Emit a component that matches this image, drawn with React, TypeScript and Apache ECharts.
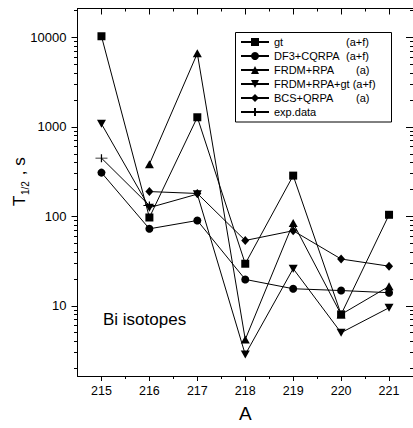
import React, { useEffect, useRef } from 'react';
import * as echarts from 'echarts';

// ---- data ----
const massNumbers = [215, 216, 217, 218, 219, 220, 221];
const gtValues = [10300, 97, 1280, 29.5, 285, 8.0, 104];
const df3Values = [308, 72.5, 89.8, 19.7, 15.5, 14.8, 14.0];
const frdmValues = [null, 383, 6630, 4.2, 84, 8.0, 16.5];
const frdmGtValues = [1080, 125, 177, 2.85, 26, 5.0, 9.5];
const bcsValues = [null, 189, 180, 53.7, 69, 33.3, 27.7];
const expValues = [447, 132, null, null, null, null, null];

const xMajorTicks = [215, 216, 217, 218, 219, 220, 221];
const xMinorTicks = [215.5, 216.5, 217.5, 218.5, 219.5, 220.5];
const yMajorTicks = [10, 100, 1000, 10000];
const yMinorTicks = [
  2, 3, 4, 5, 6, 7, 8, 9,
  20, 30, 40, 50, 60, 70, 80, 90,
  200, 300, 400, 500, 600, 700, 800, 900,
  2000, 3000, 4000, 5000, 6000, 7000, 8000, 9000,
  20000,
];
const yRange = [1.64, 21040];
const xRange = [214.5, 221.5];

const seriesNames = ['gt', 'DF3+CQRPA', 'FRDM+RPA', 'FRDM+RPA+gt', 'BCS+QRPA', 'exp.data'];
const seriesNotes = ['(a+f)', '(a+f)', '(a)', '(a+f)', '(a)', ''];

const FONT = 'Liberation Sans, Arial, Helvetica, sans-serif';
const lg = (v: number) => Math.log10(v);

function toPoints(values: (number | null)[]) {
  const pts: number[][] = [];
  values.forEach((v, i) => {
    if (v != null) pts.push([massNumbers[i], lg(v)]);
  });
  return pts;
}

export default function App() {
  const ref = useRef<HTMLDivElement>(null);
  useEffect(() => {
    if (!ref.current) return;
    const chart = echarts.init(ref.current, null, { renderer: 'svg' });

    const yMin = lg(yRange[0]);
    const yMax = lg(yRange[1]);
    const yMajorLog = yMajorTicks.map(lg);
    const yMinorLog = yMinorTicks.map(lg);

    const blank = { show: false };
    const black = { color: '#000', width: 1 };

    const baseX = {
      type: 'value' as const,
      min: xRange[0],
      max: xRange[1],
      splitLine: blank,
      axisLabel: blank,
      axisLine: { show: false, onZero: false },
    };
    const baseY = {
      type: 'value' as const,
      min: yMin,
      max: yMax,
      splitLine: blank,
      axisLabel: blank,
      axisLine: { show: false, onZero: false },
    };

    const common = {
      type: 'line' as const,
      xAxisIndex: 0,
      yAxisIndex: 0,
      lineStyle: { color: '#000', width: 1 },
      itemStyle: { color: '#000' },
      showSymbol: true,
    };

    const seriesValues = [gtValues, df3Values, frdmValues, frdmGtValues, bcsValues, expValues];
    const symbols: any[] = [
      { symbol: 'rect', symbolSize: 8 },
      { symbol: 'circle', symbolSize: 8 },
      { symbol: 'triangle', symbolSize: [9, 8] },
      { symbol: 'path://M0,0L10,0L5,9Z', symbolSize: [9, 8] },
      { symbol: 'diamond', symbolSize: [8, 9] },
      {
        symbol: 'path://M0,4H12M6,0V8',
        symbolSize: [12, 8],
        itemStyle: { color: '#000', borderColor: '#000', borderWidth: 1 },
      },
    ];

    const series = seriesNames.map((name, i) => ({
      ...common,
      name,
      data: toPoints(seriesValues[i]),
      ...symbols[i],
    }));

    const txt = (text: string, x: number, y: number, size: number) => ({
      type: 'text',
      x,
      y,
      style: {
        text,
        fontSize: size,
        fontFamily: FONT,
        fill: '#000',
        align: 'left',
        verticalAlign: 'middle',
      },
    });

    const option: any = {
      animation: false,
      backgroundColor: '#fff',
      textStyle: { fontFamily: FONT, color: '#000' },
      grid: { left: 77.5, top: 8.5, width: 338, height: 368.2, containLabel: false },
      xAxis: [
        {
          ...baseX,
          position: 'bottom',
          name: 'A',
          nameLocation: 'middle',
          nameGap: 28,
          nameTextStyle: { fontSize: 19, color: '#000', fontFamily: FONT },
          axisLine: { show: true, onZero: false, lineStyle: black },
          axisTick: { show: true, customValues: xMajorTicks, length: 5, lineStyle: black },
          axisLabel: {
            show: true,
            customValues: xMajorTicks,
            fontSize: 12.5,
            color: '#000',
            margin: 8,
            fontFamily: FONT,
          },
        },
        {
          ...baseX,
          position: 'bottom',
          axisTick: { show: true, customValues: xMinorTicks, length: 3, lineStyle: black },
        },
        {
          ...baseX,
          position: 'top',
          axisLine: { show: true, onZero: false, lineStyle: black },
          axisTick: { show: true, inside: true, customValues: xMajorTicks, length: 6, lineStyle: black },
        },
        {
          ...baseX,
          position: 'top',
          axisTick: { show: true, inside: true, customValues: xMinorTicks, length: 3, lineStyle: black },
        },
      ],
      yAxis: [
        {
          ...baseY,
          position: 'left',
          axisLine: { show: true, onZero: false, lineStyle: black },
          axisTick: { show: true, customValues: yMajorLog, length: 6, lineStyle: black },
          axisLabel: {
            show: true,
            customValues: yMajorLog,
            formatter: (v: number) => String(Math.round(Math.pow(10, v))),
            fontSize: 13,
            color: '#000',
            margin: 11,
            fontFamily: FONT,
          },
        },
        {
          ...baseY,
          position: 'left',
          axisTick: { show: true, customValues: yMinorLog, length: 3.5, lineStyle: black },
        },
        {
          ...baseY,
          position: 'right',
          axisLine: { show: true, onZero: false, lineStyle: black },
          axisTick: { show: true, inside: true, customValues: yMajorLog, length: 7, lineStyle: black },
        },
        {
          ...baseY,
          position: 'right',
          axisTick: { show: true, inside: true, customValues: yMinorLog, length: 3, lineStyle: black },
        },
      ],
      legend: {
        orient: 'vertical',
        left: 240,
        top: 36,
        padding: 0,
        itemWidth: 28,
        itemHeight: 10,
        itemGap: 2,
        selectedMode: false,
        data: seriesNames,
        textStyle: {
          fontSize: 11,
          color: '#000',
          fontFamily: FONT,
          lineHeight: 12,
          rich: {
            n: { fontSize: 11, fontFamily: FONT, color: '#000', width: 72, lineHeight: 12 },
            m: { fontSize: 11, fontFamily: FONT, color: '#000', lineHeight: 12 },
            p: { fontSize: 11, fontFamily: FONT, color: '#000', lineHeight: 12 },
            q: { fontSize: 11, fontFamily: FONT, color: '#000', lineHeight: 12, padding: [0, 0, 0, 10] },
          },
        },
        formatter: (name: string) => {
          const i = seriesNames.indexOf(name);
          const note = seriesNotes[i];
          if (!note) return `{m|${name}}`;
          if (name === 'FRDM+RPA+gt') return `{m|${name} }{p|${note}}`;
          return note === '(a)' ? `{n|${name}}{q|${note}}` : `{n|${name}}{p|${note}}`;
        },
      },
      graphic: [
        {
          type: 'rect',
          shape: { x: 235.5, y: 32.5, width: 156, height: 89.5 },
          style: { fill: 'none', stroke: '#000', lineWidth: 1 },
        },
        {
          type: 'text',
          x: 103,
          y: 319,
          style: {
            text: 'Bi isotopes',
            fontSize: 17,
            fontFamily: FONT,
            fill: '#000',
            verticalAlign: 'middle',
            align: 'left',
          },
        },
        {
          type: 'group',
          x: 19,
          y: 180,
          rotation: Math.PI / 2,
          children: [
            txt('T', -26, 0, 17),
            txt('1/2', -15, 6, 10),
            txt(' , s', 0, 0, 17),
          ],
        },
      ],
      series,
    };

    chart.setOption(option);
    return () => chart.dispose();
  }, []);

  return (
    <div
      ref={ref}
      style={{ position: 'absolute', left: 0, top: 0, width: 413, height: 428, background: '#fff' }}
    />
  );
}
